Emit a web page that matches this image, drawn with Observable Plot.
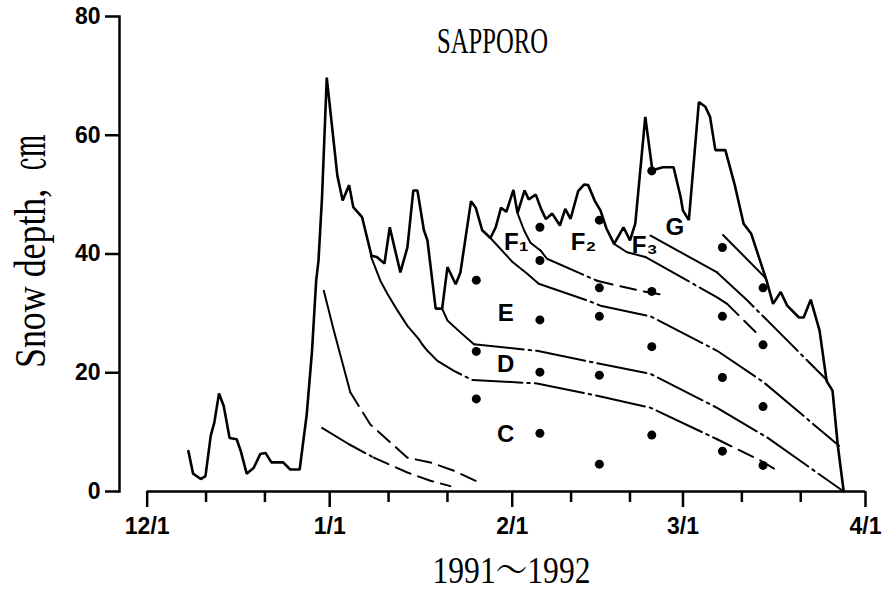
<!DOCTYPE html>
<html>
<head>
<meta charset="utf-8">
<script src="https://cdn.jsdelivr.net/npm/d3@7"></script>
<script src="https://cdn.jsdelivr.net/npm/@observablehq/plot@0.6"></script>
<style>
  html, body { margin: 0; padding: 0; background: #fff; }
  #chart svg { display: block; }
</style>
</head>
<body>
<div id="chart"></div>
<script>
// ---- Data (x = days after 1 Dec 1991, y = snow depth in cm) ----
const titleText = "SAPPORO";
const xLabelText = "1991〜1992";
const yLabelText = "Snow depth,  ㎝";

const majorTickDays = [0, 31, 62, 91, 122];
const majorTickLabels = ["12/1", "1/1", "2/1", "3/1", "4/1"];
const minorTickDays = [10, 20, 41, 51, 72, 82, 101, 111];
const yTicks = [0, 20, 40, 60, 80];

// Daily snow depth trace (vertices)
const snowDay = [7.0, 7.8, 9.1, 9.9, 10.8, 11.4, 12.2, 13.0, 14.0, 15.2, 15.9, 16.9, 18.1, 19.2, 20.1, 21.1, 23.1, 24.3, 25.9,
  27.1, 28.0, 28.7, 29.1, 29.7, 30.5, 32.3, 33.2, 34.3, 35.0, 36.5, 38.1, 39.0, 40.3, 41.2, 43.0, 44.2, 45.2, 45.9, 47.0, 47.6,
  49.0, 50.1, 51.0, 52.4, 53.2, 55.0, 55.8, 56.9, 58.3, 59.2, 60.1, 61.0, 62.2, 62.9, 64.1, 64.8, 66.0, 66.9, 67.7, 68.8,
  70.1, 71.0, 71.9, 73.2, 74.2, 74.9, 76.0, 77.0, 78.0, 79.3, 80.9, 82.0, 82.9, 84.6, 85.8, 87.6, 89.4, 90.6, 91.0, 92.0,
  93.7, 94.8, 95.6, 96.5, 98.2, 99.8, 101.3, 102.6, 105.2, 106.3, 107.6, 108.7, 110.7, 111.5, 112.7, 114.2, 115.4, 116.4, 117.3, 118.3];
const snowDepth = [6.8, 3.0, 2.1, 2.6, 9.4, 11.6, 16.5, 14.4, 9.0, 8.8, 6.8, 3.0, 4.0, 6.3, 6.5, 4.9, 4.9, 3.7, 3.7,
  13.0, 23.7, 35.5, 38.9, 49.6, 69.7, 53.2, 49.0, 51.6, 47.9, 46.2, 39.7, 39.5, 38.4, 44.5, 36.9, 41.1, 50.7, 50.7, 44.0, 42.3,
  30.8, 30.8, 37.8, 34.9, 36.9, 48.9, 47.8, 44.0, 42.7, 44.5, 47.8, 47.1, 50.8, 46.9, 50.7, 49.2, 50.0, 47.6, 45.9, 46.8,
  44.8, 47.6, 45.9, 50.6, 51.7, 51.6, 49.0, 47.3, 44.3, 41.7, 44.5, 42.3, 45.1, 63.1, 54.1, 54.6, 54.6, 49.6, 47.3, 45.7,
  65.6, 64.8, 63.1, 57.5, 57.5, 51.6, 45.1, 43.4, 35.5, 31.6, 33.6, 31.3, 29.3, 29.3, 32.3, 27.1, 18.6, 17.0, 7.7, 0];

// Observation points (dots)
const dotDay = [55.9, 55.9, 55.9, 66.7, 66.7, 66.7, 66.7, 66.7, 76.8, 76.8, 76.8, 76.8, 76.8,
  85.7, 85.7, 85.7, 85.7, 97.7, 97.7, 97.7, 97.7, 104.6, 104.6, 104.6, 104.6];
const dotDepth = [35.6, 23.6, 15.6, 44.5, 38.9, 28.9, 20.1, 9.8, 45.7, 34.3, 29.5, 19.6, 4.6,
  54.0, 33.7, 24.4, 9.5, 41.1, 29.5, 19.2, 6.8, 34.3, 24.7, 14.3, 4.4];

// Layer boundary lines, split by drawing style: [day, depth]
const bJanLow = {
  dashdot: [[29.7, 10.7], [34.2, 8.0], [38.5, 5.7]],
  dashed: [[38.5, 5.7], [44.2, 3.2], [48.1, 1.8], [51.5, 0.9]]
};
const bJanHigh = {
  solid: [[30.0, 33.8], [31.7, 27.1], [34.5, 16.7]],
  dashed: [[34.5, 16.7], [37.9, 11.3], [44.2, 5.7], [48.1, 4.9], [52.1, 3.5], [55.8, 1.8]]
};
const bCD = {
  solid: [[38.0, 39.6], [39.6, 35.5], [40.8, 33.3], [42.5, 30.5], [44.2, 27.9], [46.1, 25.7], [46.7, 24.8]],
  dashdot: [[46.7, 24.8], [47.6, 23.7], [49.3, 22.0], [52.1, 20.3], [55.2, 18.8], [66.2, 18.2], [77.0, 16.0], [85.5, 14.1], [96.8, 8.8]],
  dashed: [[96.8, 8.8], [104.2, 5.2], [107.6, 3.2]]
};
const bDE = {
  solid: [[50.1, 30.8], [51.0, 28.8], [53.2, 26.8], [55.5, 24.8]],
  dashdot: [[55.5, 24.8], [66.2, 23.7], [76.4, 21.6], [85.5, 19.8], [96.8, 14.1], [105.3, 9.1], [118.3, 0]]
};
const bEF = {
  solid: [[58.3, 42.7], [62.0, 38.7], [64.5, 36.7], [66.5, 35.0]],
  dashdot: [[66.5, 35.0], [74.7, 32.2], [77.0, 31.3], [85.5, 29.5], [96.8, 23.7], [104.7, 18.4], [117.5, 7.7]]
};
const bF1F2 = {
  solid: [[62.9, 46.9], [64.0, 44.0], [65.1, 41.9], [66.8, 40.6]],
  dashdot: [[66.8, 40.6], [67.9, 39.2], [76.4, 35.5]],
  dashed: [[76.4, 35.5], [79.8, 34.7], [83.8, 33.8], [88.3, 33.0]]
};
const bF2F3 = {
  solid: [[79.3, 41.7], [81.5, 40.3], [84.6, 39.5]],
  dashdot: [[84.6, 39.5], [96.8, 32.7], [98.5, 31.6]],
  dashed: [[98.5, 31.6], [104.2, 26.0]]
};
const bF3G = {
  solid: [[85.5, 43.1], [96.8, 36.9]],
  dashdot: [[96.8, 36.9], [101.9, 32.2], [115.5, 18.7]]
};
const bG = {
  solid: [[97.8, 43.2], [105.0, 36.0]]
};

// Layer labels
const labelText = ["C", "D", "E", "F₁", "F₂", "F₃", "G"];
const labelDay = [60.9, 60.9, 60.9, 62.7, 74.1, 84.5, 89.6];
const labelDepth = [9.7, 21.5, 30.0, 41.9, 41.9, 41.4, 44.5];

// ---- Build tables ----
const snowRows = snowDay.map((d, i) => ({day: d, depth: snowDepth[i]}));
const dotRows = dotDay.map((d, i) => ({day: d, depth: dotDepth[i]}));
const labelRows = labelText.map((t, i) => ({text: t, day: labelDay[i], depth: labelDepth[i]}));
const boundaries = {bJanLow, bJanHigh, bCD, bDE, bEF, bF1F2, bF2F3, bF3G, bG};
const bRows = [];
for (const [name, parts] of Object.entries(boundaries)) {
  for (const [style, pts] of Object.entries(parts)) {
    for (const [day, depth] of pts) bRows.push({seg: name + "-" + style, style, day, depth});
  }
}

const serif = "'Liberation Serif', 'Noto Serif CJK JP', 'Noto Sans CJK JP', serif";
const sans = "'Liberation Sans', Arial, Helvetica, sans-serif";
const yLabelLength = 233;

const chart = Plot.plot({
  width: 889,
  height: 592,
  marginLeft: 119,
  marginRight: 24,
  marginTop: 16,
  marginBottom: 101,
  style: {fontFamily: sans, fontSize: "23px", fontWeight: "bold", color: "black", background: "white", overflow: "visible"},
  x: {domain: [-4.7, majorTickDays[majorTickDays.length - 1]]},
  y: {domain: [yTicks[0], yTicks[yTicks.length - 1]]},
  marks: [
    Plot.frame({anchor: "left", strokeWidth: 2.5, stroke: "black"}),
    Plot.ruleY([0], {x1: majorTickDays[0], x2: majorTickDays[majorTickDays.length - 1], strokeWidth: 2.5, stroke: "black"}),
    Plot.axisY(yTicks, {tickSize: 14, tickPadding: 5, strokeWidth: 2.5, label: null}),
    Plot.axisX(majorTickDays, {tickSize: 16, tickPadding: 10, strokeWidth: 2.5, label: null,
      tickFormat: d => majorTickLabels[majorTickDays.indexOf(d)]}),
    Plot.axisX(minorTickDays, {tickSize: 11, strokeWidth: 2.5, label: null, tickFormat: () => ""}),
    Plot.line(bRows.filter(r => r.style === "solid"), {x: "day", y: "depth", z: "seg", stroke: "black", strokeWidth: 2}),
    Plot.line(bRows.filter(r => r.style === "dashdot"), {x: "day", y: "depth", z: "seg", stroke: "black", strokeWidth: 2, strokeDasharray: "50,5,2.5,5"}),
    Plot.line(bRows.filter(r => r.style === "dashed"), {x: "day", y: "depth", z: "seg", stroke: "black", strokeWidth: 2, strokeDasharray: "16,8"}),
    Plot.line(snowRows, {x: "day", y: "depth", stroke: "black", strokeWidth: 2.6, strokeLinejoin: "miter"}),
    Plot.dot(dotRows, {x: "day", y: "depth", r: 4.5, fill: "black"}),
    Plot.text(labelRows, {x: "day", y: "depth", text: "text", fontSize: 24, fontWeight: "bold", fontFamily: sans, lineAnchor: "middle"}),
    Plot.text([titleText], {text: d => d, frameAnchor: "top", dy: 24.5, lineAnchor: "middle", fontFamily: serif, fontWeight: "normal", fontSize: 36}),
    Plot.text([xLabelText], {text: d => d, frameAnchor: "bottom", dx: 19, dy: 79, lineAnchor: "middle", fontFamily: serif, fontWeight: "normal", fontSize: 38}),
    Plot.text([yLabelText], {text: d => d, frameAnchor: "left", rotate: -90, textAnchor: "start",
      dx: -89, dy: -2.5 + yLabelLength / 2, lineAnchor: "middle", fontFamily: serif, fontWeight: "normal", fontSize: 44})
  ]
});

// Condense the serif texts to match the narrow typeface of the original
const condensed = [[titleText, 111], [xLabelText, 158], [yLabelText, yLabelLength]];
for (const [txt, len] of condensed) {
  d3.select(chart).selectAll("text")
    .filter(function() { return this.textContent === txt; })
    .attr("textLength", len)
    .attr("lengthAdjust", "spacingAndGlyphs");
}

document.getElementById("chart").appendChild(chart);
</script>
</body>
</html>
